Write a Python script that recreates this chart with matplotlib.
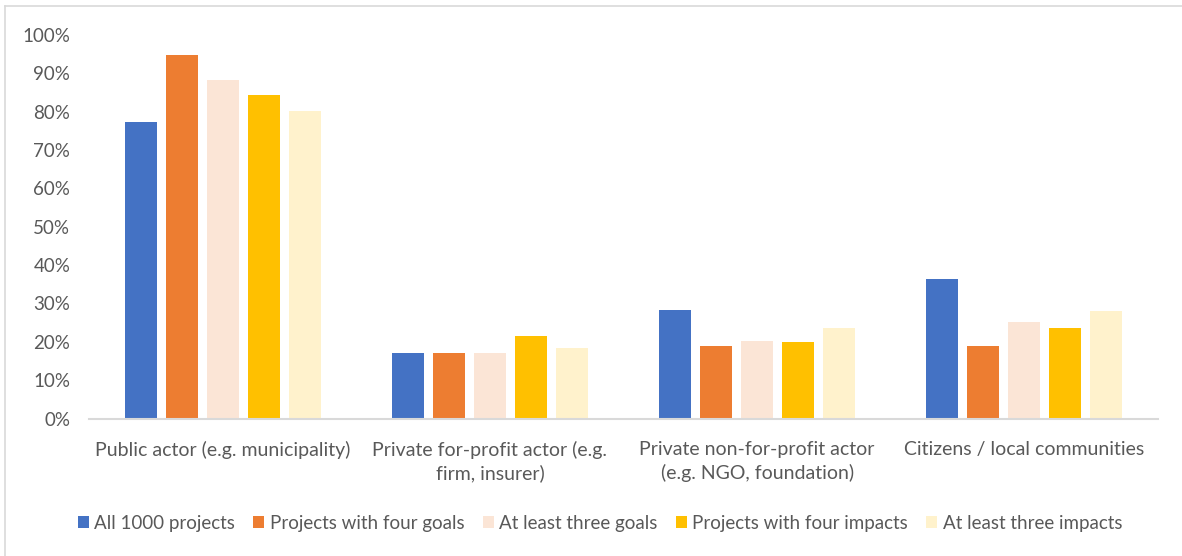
import matplotlib
matplotlib.use("Agg")
import matplotlib.pyplot as plt
from matplotlib.lines import Line2D
from matplotlib.ticker import PercentFormatter, MultipleLocator
import numpy as np

plt.rcParams['font.family'] = ['Lato', 'DejaVu Sans']

categories = [
    "Public actor (e.g. municipality)",
    "Private for-profit actor (e.g.\nfirm, insurer)",
    "Private non-for-profit actor\n(e.g. NGO, foundation)",
    "Citizens / local communities",
]
series_names = [
    "All 1000 projects",
    "Projects with four goals",
    "At least three goals",
    "Projects with four impacts",
    "At least three impacts",
]
all_projects = [77.2, 17.0, 28.4, 36.4]
four_goals = [94.8, 17.2, 19.0, 19.0]
three_goals = [88.2, 17.0, 20.2, 25.1]
four_impacts = [84.3, 21.4, 19.9, 23.7]
three_impacts = [80.2, 18.4, 23.5, 28.1]

series_values = [all_projects, four_goals, three_goals, four_impacts, three_impacts]
colors = ["#4472C4", "#ED7D31", "#FBE5D6", "#FFC000", "#FFF2CC"]
text_color = "#595959"

W, H = 1182, 556
fig = plt.figure(figsize=(W / 100, H / 100), dpi=100)
ax = fig.add_axes([89 / W, 1 - 418.5 / H, (1158 - 89) / W, (418.5 - 35) / H])

x = np.arange(len(categories))
step = 41 / 267.3
bar_w = 32 / 267.3
for i, (name, vals, col) in enumerate(zip(series_names, series_values, colors)):
    ax.bar(x + (i - 2) * step, vals, width=bar_w, color=col, label=name,
           linewidth=0, zorder=2)

ax.set_xlim(-0.5, len(categories) - 0.5)
ax.set_ylim(0, 100)
ax.yaxis.set_major_locator(MultipleLocator(10))
ax.yaxis.set_major_formatter(PercentFormatter(decimals=0))

for side in ("top", "right", "left"):
    ax.spines[side].set_visible(False)
ax.spines["bottom"].set_color("#D9D9D9")
ax.spines["bottom"].set_linewidth(1.5)

ax.tick_params(axis="y", length=0, pad=13.5, labelsize=13.5, labelcolor=text_color)
ax.tick_params(axis="x", length=0, pad=16, labelsize=14, labelcolor=text_color)
ax.set_xticks(x)
ax.set_xticklabels(categories, linespacing=1.4)

leg = fig.legend(loc="center", bbox_to_anchor=(600 / W, 1 - 523 / H), ncol=5,
                 frameon=False, fontsize=13.5, handlelength=0.6, handleheight=0.6,
                 handletextpad=0.3, columnspacing=0.95)
for t in leg.get_texts():
    t.set_color(text_color)

# chart-area border (left and top edges)
fig.add_artist(Line2D([4.5 / W, 4.5 / W], [0, 1 - 6 / H], transform=fig.transFigure,
                      color="#D9D9D9", linewidth=1.2))
fig.add_artist(Line2D([4.5 / W, 1], [1 - 6 / H, 1 - 6 / H], transform=fig.transFigure,
                      color="#D9D9D9", linewidth=1.2))

fig.savefig("out.png", dpi=100, facecolor="white")
